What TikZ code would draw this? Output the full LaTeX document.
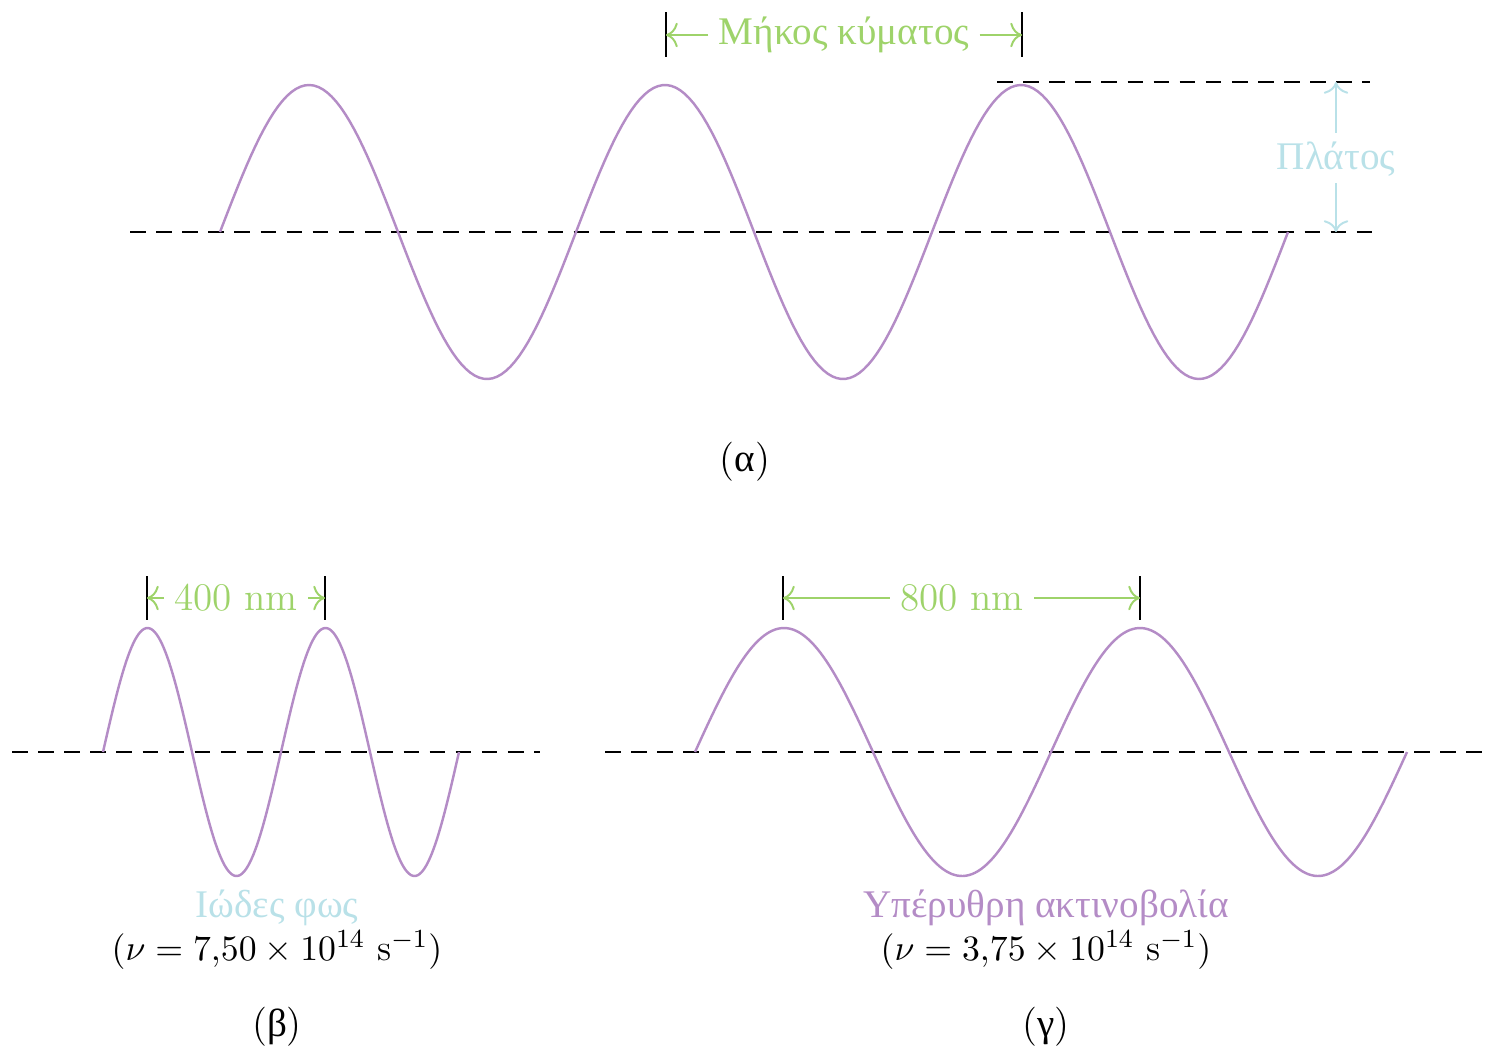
\documentclass[tikz,border=0pt]{standalone}
\usepackage{fontspec}
\newfontfamily\greekfont{Liberation Serif}
\usepackage{xcolor}
\definecolor{wavepurple}{HTML}{B48CC6}
\definecolor{dimgreen}{HTML}{9ED36A}
\definecolor{ampblue}{HTML}{B9E1E8}
\usetikzlibrary{arrows.meta, positioning}

\begin{document}
\begin{tikzpicture}[x=0.01077cm, y=-0.01077cm,
  wave/.style={wavepurple, line width=0.75pt},
  axisline/.style={black, line width=0.6pt, dash pattern=on 4.8pt off 3.2pt},
  tickline/.style={black, line width=0.7pt},
  dimarrow/.style={-{To[length=3.6pt]}, dimgreen, line width=0.6pt},
  amparrow/.style={-{To[length=3.6pt]}, ampblue, line width=0.6pt},
  dimlabel/.style={font=\large, text=dimgreen, inner sep=3pt},
  amplabel/.style={font=\greekfont\large, text=ampblue, inner sep=3pt,
    text height=8pt, text depth=1pt},
  namelabel/.style={font=\greekfont\large, inner sep=0pt, anchor=base},
  freqlabel/.style={font=\fontsize{11.2}{13}\selectfont, inner sep=0pt, anchor=base},
  caption/.style={font=\large}
]
\useasboundingbox (0,0) rectangle (1486,1045);

% (a) the general wave
\coordinate (a-left) at (130,232);
\coordinate (a-right) at (1378,232);
\draw[axisline] (a-left) -- (a-right);
\draw[wave] plot[domain=220:1288, samples=240] (\x, {232-147*sin((\x-220)/356*360)});

\coordinate (a-t1) at (666,12);
\coordinate (a-b1) at (666,57);
\coordinate (a-t2) at (1022,12);
\coordinate (a-b2) at (1022,57);
\draw[tickline] (a-t1) -- (a-b1);
\draw[tickline] (a-t2) -- (a-b2);
\node[dimlabel, font=\greekfont\large] (a-wl) at (844,35) {Μήκος κύματος};
\coordinate (a-m1) at (666,35);
\coordinate (a-m2) at (1022,35);
\draw[dimarrow] (a-wl.west) -- (a-m1);
\draw[dimarrow] (a-wl.east) -- (a-m2);

\coordinate (a-crest-l) at (997,82);
\coordinate (a-crest-r) at (1370,82);
\draw[axisline] (a-crest-l) -- (a-crest-r);
\node[amplabel] (a-amp) at (1336,158) {Πλάτος};
\coordinate (a-amp-up) at (1336,82);
\coordinate (a-amp-dn) at (1336,232);
\draw[amparrow] (a-amp.north) -- (a-amp-up);
\draw[amparrow] (a-amp.south) -- (a-amp-dn);

\node[caption] (a-cap) at (745,462) {({\greekfont α})};

% (b) violet light
\coordinate (b-left) at (12,752);
\coordinate (b-right) at (540,752);
\draw[axisline] (b-left) -- (b-right);
\draw[wave] plot[domain=103:459, samples=200] (\x, {752-124*sin((\x-103)/178*360)});

\coordinate (b-t1) at (147,576);
\coordinate (b-b1) at (147,620);
\coordinate (b-t2) at (325,576);
\coordinate (b-b2) at (325,620);
\draw[tickline] (b-t1) -- (b-b1);
\draw[tickline] (b-t2) -- (b-b2);
\node[dimlabel] (b-wl) at (236,598) {400 nm};
\coordinate (b-m1) at (147,598);
\coordinate (b-m2) at (325,598);
\draw[dimarrow] (b-wl.west) -- (b-m1);
\draw[dimarrow] (b-wl.east) -- (b-m2);

\node[namelabel, text=ampblue] (b-name) at (277,917) {Ιώδες φως};
\node[freqlabel] (b-freq) at (277,960) {$(\nu = 7{,}50 \times 10^{14}\ \mathrm{s}^{-1})$};
\node[caption] (b-cap) at (277,1027) {({\greekfont β})};

% (c) infrared radiation
\coordinate (c-left) at (605,752);
\coordinate (c-right) at (1486,752);
\draw[axisline] (c-left) -- (c-right);
\draw[wave] plot[domain=695:1407, samples=240] (\x, {752-124*sin((\x-695)/356*360)});

\coordinate (c-t1) at (783,576);
\coordinate (c-b1) at (783,620);
\coordinate (c-t2) at (1140,576);
\coordinate (c-b2) at (1140,620);
\draw[tickline] (c-t1) -- (c-b1);
\draw[tickline] (c-t2) -- (c-b2);
\node[dimlabel] (c-wl) at (962,598) {800 nm};
\coordinate (c-m1) at (783,598);
\coordinate (c-m2) at (1140,598);
\draw[dimarrow] (c-wl.west) -- (c-m1);
\draw[dimarrow] (c-wl.east) -- (c-m2);

\node[namelabel, text=wavepurple] (c-name) at (1046,917) {Υπέρυθρη ακτινοβολία};
\node[freqlabel] (c-freq) at (1046,960) {$(\nu = 3{,}75 \times 10^{14}\ \mathrm{s}^{-1})$};
\node[caption] (c-cap) at (1046,1027) {({\greekfont γ})};
\end{tikzpicture}
\end{document}
